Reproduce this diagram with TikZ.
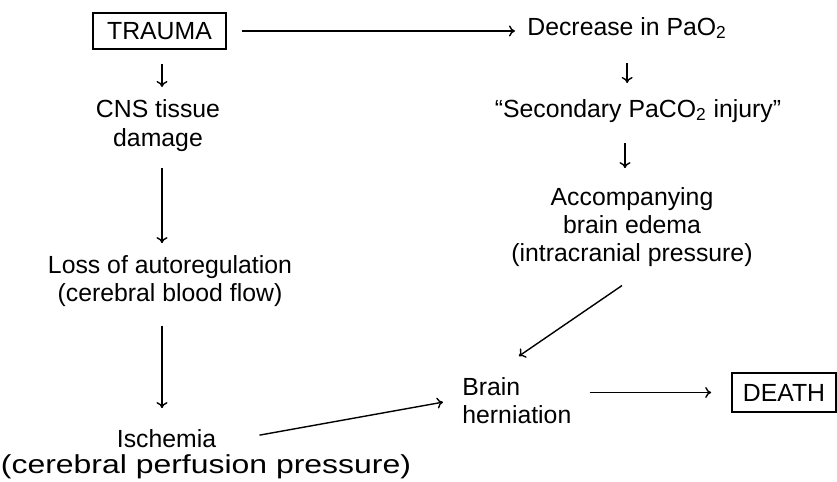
\documentclass[tikz,border=0pt]{standalone}
\usepackage{fontspec}
\setmainfont{Liberation Sans}
\usepackage{graphicx}
\usetikzlibrary{arrows.meta}
\begin{document}
\begin{tikzpicture}[x=0.5pt,y=-0.5pt,
  every node/.style={font=\fontsize{12.4}{14}\selectfont, inner sep=0pt},
  txt/.style={anchor=base, align=center},
  endbox/.style={draw, line width=0.8pt, anchor=center},
  flow/.style={line width=0.7pt, -{To[length=3pt,width=5.5pt]}}]
\useasboundingbox (0,0) rectangle (837,482);

% boxed start and end states
\node[endbox, minimum width=66.5pt, minimum height=18pt] (trauma) at (159.5,31) {TRAUMA};
\node[endbox, minimum width=52pt, minimum height=19.5pt] (death) at (784,392.5) {DEATH};

% right-hand chain (multi-line nodes sit on the baseline of their last line)
\node[anchor=base west] (dec) at (527,35) {Decrease in PaO\textsubscript{2}};
\node[txt] (sec) at (638,117) {“Secondary PaCO\textsubscript{2} injury”};
\node[txt] (acc) at (632,261) {Accompanying\\brain edema\\(intracranial pressure)};

% left-hand chain
\node[txt] (cns) at (158,146) {CNS tissue\\damage};
\node[txt] (loss) at (170,301) {Loss of autoregulation\\(cerebral blood flow)};
\node[txt] (isch) at (166.5,447) {Ischemia};
\node[txt, font=\fontsize{13}{15}\selectfont] (perf) at (206,473)
  {\resizebox{205pt}{\height}{(cerebral perfusion pressure)}};

% junction
\node[anchor=base west, align=left] (brain) at (462,423) {Brain\\herniation};

% connectors
\draw[flow] ([xshift=7.5pt]trauma.east) -- ([xshift=-6pt]trauma.east -| dec.west);
\draw[flow] ([shift={(1.25pt,-7pt)}]trauma.south) -- ([shift={(2pt,6.3pt)}]cns.north);
\draw[flow] ([shift={(2pt,-8pt)}]cns.south) -- ([shift={(-4pt,5.75pt)}]loss.north);
\draw[flow] ([shift={(-4pt,-9.5pt)}]loss.south) -- ([shift={(-2.25pt,10.25pt)}]isch.north);
\draw[flow] ([shift={(21.5pt,1.5pt)}]isch.east) -- ([shift={(-9.5pt,-1pt)}]brain.west);

\draw[flow] ([yshift=-14pt]dec.base) -- ([yshift=17pt]sec.base -| dec.base);
\draw[flow] ([shift={(-6.5pt,-13pt)}]sec.base) -- ([shift={(-3.5pt,9.25pt)}]acc.north);
\draw[flow] ([shift={(-5pt,-9.5pt)}]acc.south) -- ([shift={(1pt,10.25pt)}]brain.north);

\draw[flow] ([xshift=9pt]brain.east |- death.west) -- ([xshift=-10pt]death.west);
\end{tikzpicture}
\end{document}
